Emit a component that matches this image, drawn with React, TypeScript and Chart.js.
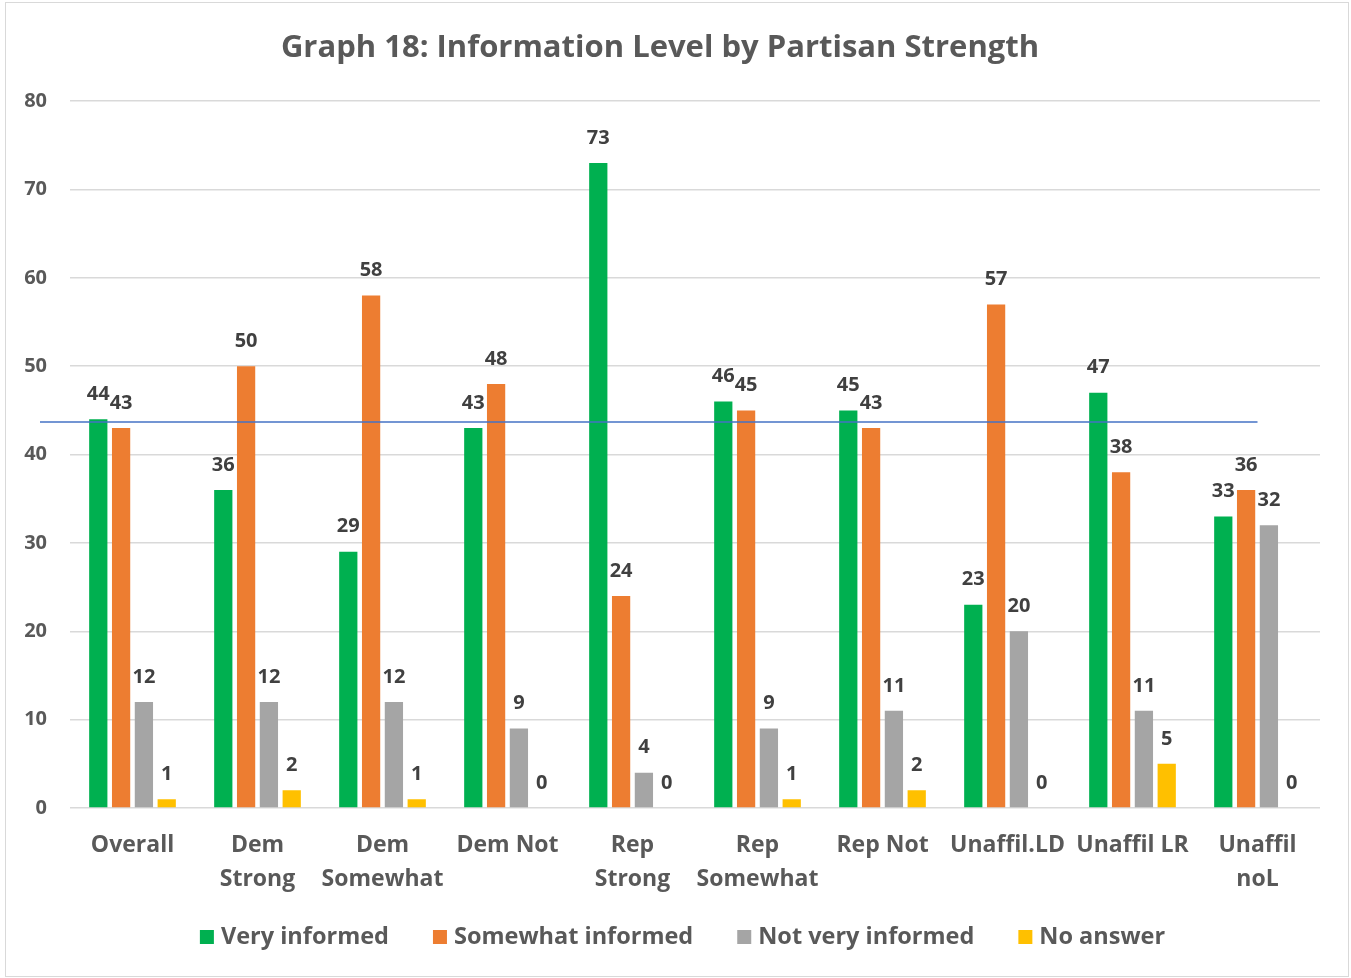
import React, { useEffect, useRef } from "react";
import { Chart, registerables } from "chart.js";

Chart.register(...registerables);

const categories: (string | string[])[] = [
  "Overall",
  ["Dem", "Strong"],
  ["Dem", "Somewhat"],
  "Dem Not",
  ["Rep", "Strong"],
  ["Rep", "Somewhat"],
  "Rep Not",
  "Unaffil.LD",
  "Unaffil LR",
  ["Unaffil", "noL"],
];

const veryInformed = [44, 36, 29, 43, 73, 46, 45, 23, 47, 33];
const somewhatInformed = [43, 50, 58, 48, 24, 45, 43, 57, 38, 36];
const notVeryInformed = [12, 12, 12, 9, 4, 9, 11, 20, 11, 32];
const noAnswer = [1, 2, 1, 0, 0, 1, 2, 0, 5, 0];

const seriesNames = ["Very informed", "Somewhat informed", "Not very informed", "No answer"];
const seriesColors = ["#00B050", "#ED7D31", "#A5A5A5", "#FFC000"];

const yTicks = [0, 10, 20, 30, 40, 50, 60, 70, 80];
const referenceLineValue = 43.7;

const FONT = "'Open Sans', 'Noto Sans', sans-serif";
const TEXT = "#595959";

const dataLabelPlugin = {
  id: "dataLabels",
  afterDatasetsDraw(chart: any) {
    const ctx = chart.ctx;
    ctx.save();
    ctx.font = `bold 20px ${FONT}`;
    ctx.fillStyle = "#404040";
    ctx.textAlign = "center";
    ctx.textBaseline = "middle";
    chart.data.datasets.forEach((ds: any, i: number) => {
      const meta = chart.getDatasetMeta(i);
      meta.data.forEach((bar: any, j: number) => {
        ctx.fillText(String(ds.data[j]), bar.x, bar.y - 25);
      });
    });
    ctx.restore();
  },
};

const refLinePlugin = {
  id: "refLine",
  afterDatasetsDraw(chart: any) {
    const ctx = chart.ctx;
    const y = chart.scales.y.getPixelForValue(referenceLineValue);
    const x0 = chart.chartArea.left - 30;
    const x1 = chart.scales.x.getPixelForValue(categories.length - 1);
    ctx.save();
    ctx.strokeStyle = "#4472C4";
    ctx.lineWidth = 1.5;
    ctx.beginPath();
    ctx.moveTo(x0, y);
    ctx.lineTo(x1, y);
    ctx.stroke();
    ctx.restore();
  },
};

const legendPlugin = {
  id: "customLegend",
  afterDraw(chart: any) {
    const ctx = chart.ctx;
    ctx.save();
    ctx.font = `bold 23.5px ${FONT}`;
    ctx.textBaseline = "middle";
    ctx.textAlign = "left";
    const box = 14;
    const gapText = 7;
    const gapItem = 44;
    const widths = chart.data.datasets.map(
      (ds: any) => box + gapText + ctx.measureText(ds.label).width
    );
    const total = widths.reduce((a: number, b: number) => a + b, 0) + gapItem * (widths.length - 1);
    let x = chart.width / 2 + 7 - total / 2;
    const y = chart.height - 41;
    chart.data.datasets.forEach((ds: any, i: number) => {
      ctx.fillStyle = ds.backgroundColor;
      ctx.fillRect(x, y - box / 2, box, box);
      ctx.fillStyle = TEXT;
      ctx.fillText(ds.label, x + box + gapText, y);
      x += widths[i] + gapItem;
    });
    ctx.restore();
  },
};

export default function App() {
  const ref = useRef<HTMLCanvasElement | null>(null);
  useEffect(() => {
    document.body.style.margin = "0";
    const seriesData = [veryInformed, somewhatInformed, notVeryInformed, noAnswer];
    const chart = new Chart(ref.current as HTMLCanvasElement, {
      type: "bar",
      data: {
        labels: categories as any,
        datasets: seriesData.map((d, i) => ({
          label: seriesNames[i],
          data: d,
          backgroundColor: seriesColors[i],
          categoryPercentage: 0.73,
          barPercentage: 0.8,
        })),
      },
      options: {
        animation: false,
        responsive: false,
        maintainAspectRatio: false,
        layout: { padding: { left: 0, right: 31, top: 0, bottom: 72 } },
        plugins: {
          title: {
            display: true,
            text: "Graph 18: Information Level by Partisan Strength",
            color: TEXT,
            font: { family: FONT, size: 31, weight: "bold", lineHeight: 1.2 },
            padding: { top: 30, bottom: 34 },
          },
          legend: { display: false },
          tooltip: { enabled: false },
        },
        scales: {
          x: {
            grid: { display: false },
            border: { display: false },
            ticks: {
              color: TEXT,
              font: { family: FONT, size: 23, weight: "bold", lineHeight: 1.48 },
              padding: 12,
              maxRotation: 0,
              autoSkip: false,
            },
            afterFit(scale: any) {
              scale.height = 98;
            },
          },
          y: {
            min: 0,
            max: 80,
            afterBuildTicks(scale: any) {
              scale.ticks = yTicks.map((v) => ({ value: v }));
            },
            grid: { color: "#D9D9D9", lineWidth: 1.5, drawTicks: false },
            border: { display: false },
            ticks: {
              color: TEXT,
              font: { family: FONT, size: 20, weight: "bold" },
              padding: 23,
            },
            afterFit(scale: any) {
              scale.width = 70;
            },
          },
        },
      },
      plugins: [dataLabelPlugin, refLinePlugin, legendPlugin],
    });
    return () => chart.destroy();
  }, []);
  return (
    <div style={{ position: "relative", width: 1351, height: 978, background: "#fff" }}>
      <canvas ref={ref} width={1351} height={978} style={{ display: "block" }} />
      <div
        style={{
          position: "absolute",
          left: 5,
          top: 2,
          width: 1342,
          height: 973,
          border: "1px solid #D9D9D9",
          pointerEvents: "none",
        }}
      />
    </div>
  );
}
